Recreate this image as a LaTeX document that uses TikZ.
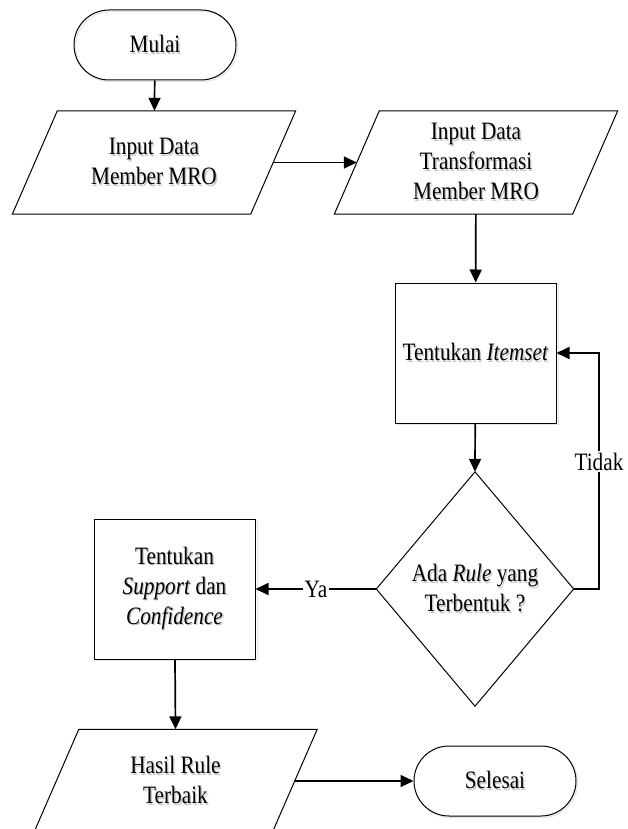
\documentclass[tikz,border=0pt]{standalone}
\usepackage{fontspec}
\setmainfont{Liberation Serif}[FakeStretch=0.85]
\usetikzlibrary{arrows.meta}
% one line of text with a faint grey drop shadow behind it
\newcommand\shline[1]{\leavevmode\rlap{\kern1.3pt\raisebox{-1.3pt}{\textcolor{black!22}{#1}}}#1}
\begin{document}
\begin{tikzpicture}[x=1pt,y=-1pt,
  every node/.style={font=\fontsize{25}{30}\selectfont, align=center, inner sep=0pt},
  term/.style={draw, line width=1pt, rounded corners=35pt, minimum width=162pt, minimum height=70pt},
  proc/.style={draw, line width=1pt, minimum width=161pt, minimum height=140pt},
  iobox/.style={minimum width=238pt, minimum height=103pt},
  decbox/.style={minimum width=197pt, minimum height=234pt},
  outline/.style={line width=1pt, line join=miter},
  shade/.style={line width=1.2pt, draw=black!10},
  flow/.style={-{Triangle[length=13pt,width=12pt]}, line width=1.7pt},
  lbl/.style={fill=white, inner sep=1.5pt}]
\useasboundingbox (0,0) rectangle (628,829);
\clip (0,0) rectangle (628,829);

% faint shadows of the boxes
\draw[shade, rounded corners=35pt] (75.5,11.5) rectangle (237.5,81.5);
\draw[shade] (397.5,284.5) rectangle (558.5,424.5);
\draw[shade] (96.5,520.5) rectangle (257.5,660.5);
\draw[shade, rounded corners=35pt] (415.5,747.5) rectangle (577.5,817.5);

% nodes
\node[term]   (start) at (155,45)    {\shline{Mulai}};
\node[iobox]  (p1)    at (154,162.5) {\shline{Input Data}\\\shline{Member MRO}};
\node[iobox]  (p2)    at (476,162.5) {\shline{Input Data}\\\shline{Transformasi}\\\shline{Member MRO}};
\node[proc, fill=white] (r1) at (475.5,353) {\shline{Tentukan \textit{Itemset}}};
\node[decbox] (d1)    at (475,589)   {\shline{Ada \textit{Rule} yang}\\\shline{Terbentuk ?}};
\node[proc, fill=white] (r2) at (174.5,589) {\shline{Tentukan}\\\shline{\textit{Support} dan}\\\shline{\textit{Confidence}}};
\node[iobox]  (p3)    at (175.5,781) {\shline{Hasil Rule}\\\shline{Terbaik}};
\node[term, fill=white] (stop) at (495,781) {\shline{Selesai}};
\coordinate (loopx) at (599,0);

% slanted input/output outlines
\foreach \n in {p1,p2,p3}
  \draw[outline] ([xshift=22.5pt]\n.north west) -- ([xshift=22.5pt]\n.north east)
     -- ([xshift=-22.5pt]\n.south east) -- ([xshift=-22.5pt]\n.south west) -- cycle;
% decision outline
\draw[outline] (d1.north) -- (d1.east) -- (d1.south) -- (d1.west) -- cycle;

% connectors
\draw[flow] (start) -- (p1);
\draw[flow] (p1.east) -- (p2.west);
\draw[flow] (p2) -- (r1);
\draw[flow] (r1) -- (d1.north);
\draw[flow] (d1.west) -- node[lbl] {Ya} (r2.east);
\draw[flow] (d1.east) -- (d1.east -| loopx)
   -- node[lbl, pos=0.54] {Tidak} (r1.east -| loopx) -- (r1.east);
\draw[flow] (r2) -- (p3.north);
\draw[flow] (p3.east) -- (stop.west);
\end{tikzpicture}
\end{document}
